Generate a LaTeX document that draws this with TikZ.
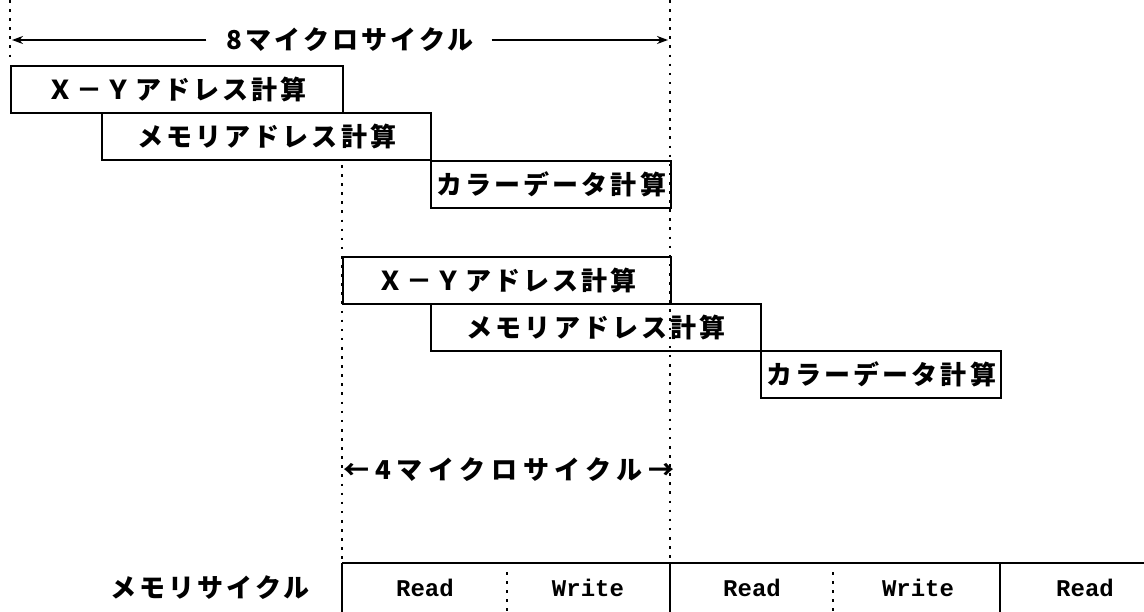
\documentclass[tikz,border=0pt]{standalone}
\usepackage{fontspec}
\usetikzlibrary{arrows.meta}
\newfontfamily\jp[LetterSpace=12]{Noto Sans CJK JP}
\newfontfamily\jpw[LetterSpace=22]{Noto Sans CJK JP}
\newfontfamily\lat{Liberation Mono}
\begin{document}
\begin{tikzpicture}[x=1pt,y=-1pt,
  box/.style={draw, line width=2.4pt, inner sep=0pt, anchor=north west,
    font=\jp\bfseries\fontsize{26}{26}\selectfont, minimum height=47pt},
  lbl/.style={inner sep=0pt, font=\jp\bfseries\fontsize{26}{26}\selectfont},
  rw/.style={inner sep=0pt, font=\lat\bfseries\fontsize{24}{24}\selectfont},
  dots/.style={line width=2.6pt, dash pattern=on 2.6pt off 6.5pt},
  solid line/.style={line width=2.4pt},
  arr/.style={line width=2.4pt, -{Stealth[length=11pt,width=8pt]}}]
\useasboundingbox (0,0) rectangle (1144,612);
% dotted guide lines
\coordinate (dl1) at (10,0);   \coordinate (dl2) at (10,60);
\coordinate (dm1) at (342,165); \coordinate (dm2) at (342,563);
\coordinate (dr1) at (670,0);  \coordinate (dr2) at (670,563);
\draw[dots] (dl1) -- (dl2);
\draw[dots] (dm1) -- (dm2);
\draw[dots] (dr1) -- (dr2);
% 8 micro cycle arrow
\node[lbl] (t8) at (350,40) {8マイクロサイクル};
\coordinate (a8l) at (12,40); \coordinate (a8r) at (668,40);
\draw[arr] ([xshift=-20pt]t8.west) -- (a8l);
\draw[arr] ([xshift=18pt]t8.east) -- (a8r);
% first group
\node[box, minimum width=332pt] (b1) at (10,65) {Ｘ－Ｙアドレス計算};
\node[box, minimum width=329pt] (b2) at (101,112) {メモリアドレス計算};
\node[box, minimum width=240pt] (b3) at (430,160) {カラーデータ計算};
% second group
\node[box, minimum width=328pt] (b4) at (342,256) {Ｘ－Ｙアドレス計算};
\node[box, minimum width=330pt] (b5) at (430,303) {メモリアドレス計算};
\node[box, minimum width=240pt] (b6) at (760,350) {カラーデータ計算};
% 4 micro cycle
\node[lbl, font=\jpw\bfseries\fontsize{26}{26}\selectfont] (t4) at (509,470) {←4マイクロサイクル→};
% memory cycle row
\coordinate (m0) at (342,563); \coordinate (m0b) at (342,612);
\coordinate (m1) at (670,563); \coordinate (m1b) at (670,612);
\coordinate (m2) at (1000,563); \coordinate (m2b) at (1000,612);
\coordinate (mr) at (1144,563);
\coordinate (d1) at (507,572); \coordinate (d1b) at (507,612);
\coordinate (d2) at (833,572); \coordinate (d2b) at (833,612);
\draw[solid line] (m0) -- (mr);
\draw[solid line] (m0) -- (m0b);
\draw[solid line] (m1) -- (m1b);
\draw[solid line] (m2) -- (m2b);
\draw[dots] (d1) -- (d1b);
\draw[dots] (d2) -- (d2b);
\node[lbl] (mc) at (210,588) {メモリサイクル};
\node[rw] (r1) at (425,588) {Read};
\node[rw] (w1) at (588,588) {Write};
\node[rw] (r2) at (752,588) {Read};
\node[rw] (w2) at (918,588) {Write};
\node[rw] (r3) at (1085,588) {Read};
\end{tikzpicture}
\end{document}
